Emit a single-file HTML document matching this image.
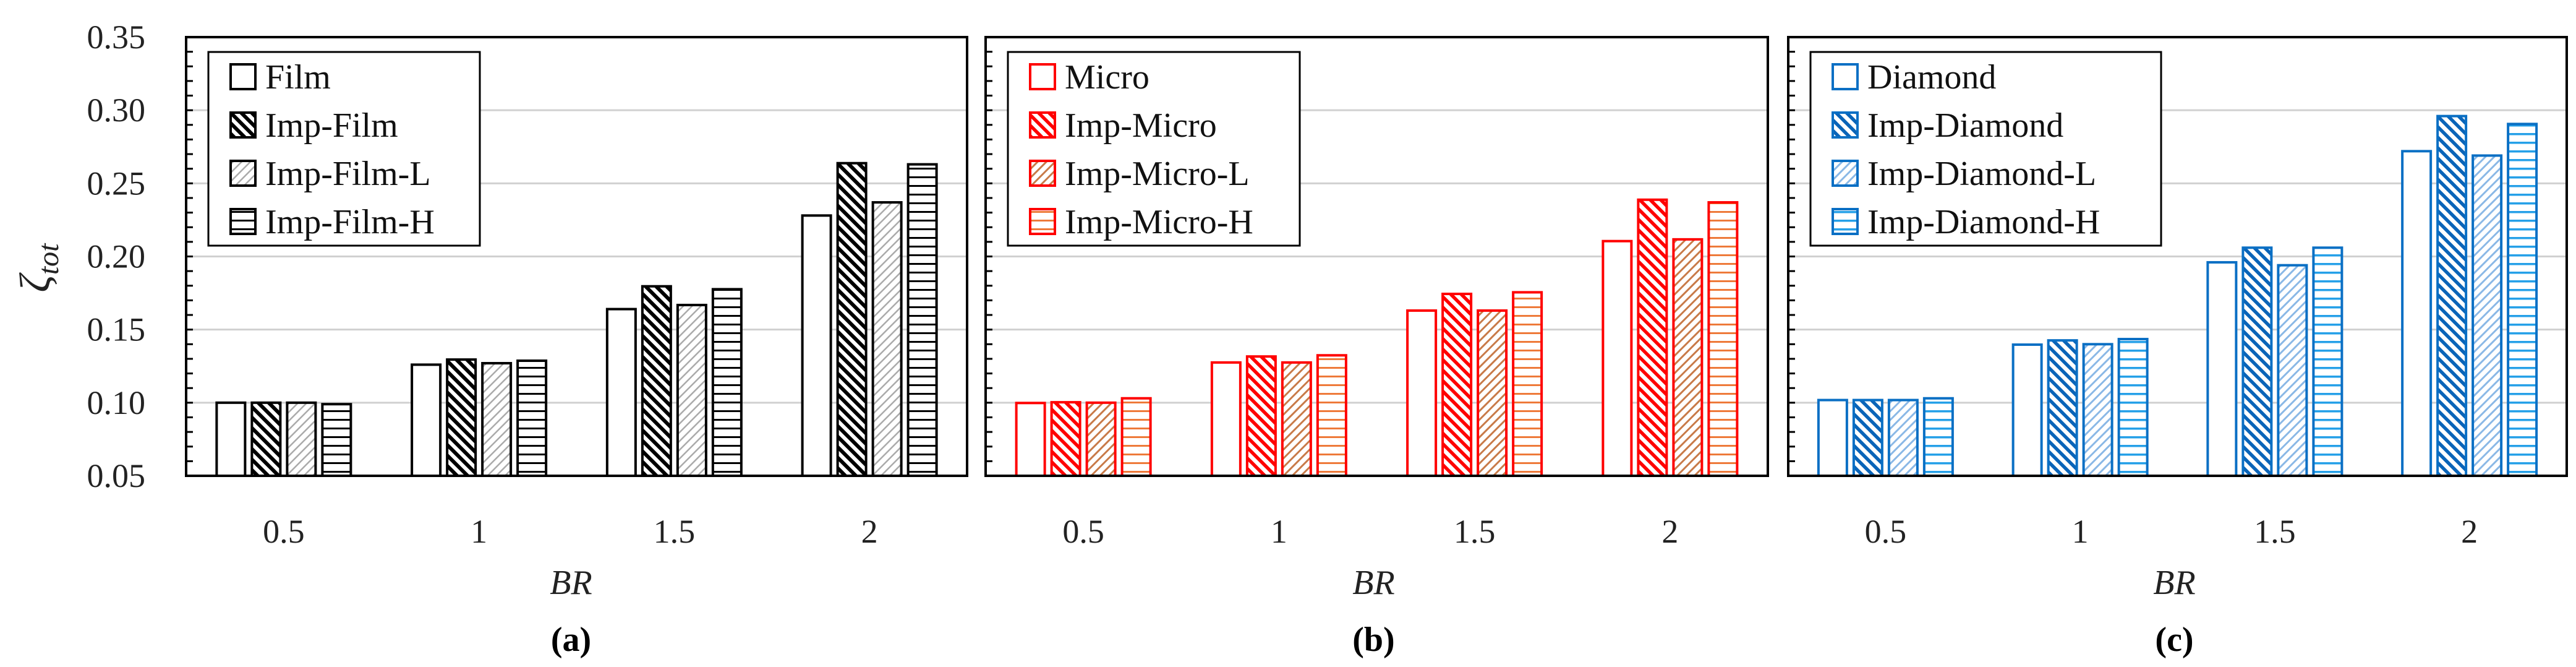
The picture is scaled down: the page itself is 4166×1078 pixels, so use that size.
<!DOCTYPE html>
<html><head><meta charset="utf-8"><style>
html,body{margin:0;padding:0;background:#fff;}
svg{display:block;}
text{font-family:"Liberation Serif",serif;}
</style></head><body>
<svg id="fig" width="4166" height="1078" viewBox="0 0 4166 1078" xmlns="http://www.w3.org/2000/svg">
<defs>
<pattern id="pd-k" patternUnits="userSpaceOnUse" width="12" height="12" patternTransform="rotate(-45)"><rect width="12" height="12" fill="#fff"/><rect width="6" height="12" fill="#000"/></pattern>
<pattern id="pl-k" patternUnits="userSpaceOnUse" width="10" height="10" patternTransform="rotate(45)"><rect width="10" height="10" fill="#fff"/><rect width="2.5" height="10" fill="#aaa"/></pattern>
<pattern id="ph-k" patternUnits="userSpaceOnUse" width="14" height="14"><rect width="14" height="14" fill="#fff"/><rect y="5" width="14" height="3" fill="#000"/></pattern>
<pattern id="pd-r" patternUnits="userSpaceOnUse" width="12" height="12" patternTransform="rotate(-45)"><rect width="12" height="12" fill="#fff"/><rect width="5.5" height="12" fill="#ff0000"/></pattern>
<pattern id="pl-r" patternUnits="userSpaceOnUse" width="10" height="10" patternTransform="rotate(45)"><rect width="10" height="10" fill="#fff"/><rect width="3" height="10" fill="#c87a48"/></pattern>
<pattern id="ph-r" patternUnits="userSpaceOnUse" width="14" height="14"><rect width="14" height="14" fill="#fff"/><rect y="5" width="14" height="3" fill="#ee7a3a"/></pattern>
<pattern id="pd-b" patternUnits="userSpaceOnUse" width="12" height="12" patternTransform="rotate(-45)"><rect width="12" height="12" fill="#fff"/><rect width="5.5" height="12" fill="#0a64b8"/></pattern>
<pattern id="pl-b" patternUnits="userSpaceOnUse" width="10" height="10" patternTransform="rotate(45)"><rect width="10" height="10" fill="#fff"/><rect width="3" height="10" fill="#8ab8e6"/></pattern>
<pattern id="ph-b" patternUnits="userSpaceOnUse" width="14" height="14"><rect width="14" height="14" fill="#fff"/><rect y="5" width="14" height="3.5" fill="#25a0e8"/></pattern>
</defs>
</svg>
<script>
const categories = ["0.5","1","1.5","2"];
const yTicks = [0.05,0.10,0.15,0.20,0.25,0.30,0.35];
const yTickLabels = ["0.05","0.10","0.15","0.20","0.25","0.30","0.35"];
const filmNames = ["Film","Imp-Film","Imp-Film-L","Imp-Film-H"];
const microNames = ["Micro","Imp-Micro","Imp-Micro-L","Imp-Micro-H"];
const diamondNames = ["Diamond","Imp-Diamond","Imp-Diamond-L","Imp-Diamond-H"];
const film = [0.100,0.126,0.164,0.228];
const impFilm = [0.100,0.1295,0.1796,0.2638];
const impFilmL = [0.100,0.127,0.1668,0.237];
const impFilmH = [0.099,0.1287,0.1776,0.263];
const micro = [0.0998,0.1275,0.163,0.2105];
const impMicro = [0.1003,0.1316,0.1744,0.2388];
const impMicroL = [0.100,0.1275,0.163,0.2117];
const impMicroH = [0.103,0.1324,0.1755,0.237];
const diamond = [0.1018,0.1397,0.196,0.272];
const impDiamond = [0.1018,0.1426,0.206,0.296];
const impDiamondL = [0.1018,0.140,0.194,0.269];
const impDiamondH = [0.103,0.1435,0.206,0.2906];

const NS="http://www.w3.org/2000/svg";
const svg=document.getElementById('fig');
function mk(tag,attrs,parent){const e=document.createElementNS(NS,tag);for(const k in attrs)e.setAttribute(k,attrs[k]);(parent||svg).appendChild(e);return e;}
const TOP=60, BOT=769, YMIN=0.05, YMAX=0.35;
function yScale(v){return BOT-(v-YMIN)/(YMAX-YMIN)*(BOT-TOP);}

const panels=[
 {L:301,R:1564,key:'k',stroke:'#000',names:filmNames,series:[film,impFilm,impFilmL,impFilmH],label:'(a)',id:'a',legW:439},
 {L:1594,R:2859,key:'r',stroke:'#ff0000',names:microNames,series:[micro,impMicro,impMicroL,impMicroH],label:'(b)',id:'b',legW:472},
 {L:2892,R:4151,key:'b',stroke:'#0a6fc4',names:diamondNames,series:[diamond,impDiamond,impDiamondL,impDiamondH],label:'(c)',id:'c',legW:567}
];
const fills=k=>['#fff','url(#pd-'+k+')','url(#pl-'+k+')','url(#ph-'+k+')'];

panels.forEach((p,pi)=>{
  const g=mk('g',{});
  
  
  const W=p.R-p.L;
  yTicks.forEach((t,i)=>{
    if(i===0||i===yTicks.length-1) return;
    const l=mk('line',{x1:p.L,x2:p.R,y1:yScale(t),y2:yScale(t),stroke:'#d0d0d0','stroke-width':3},g);
    
    
  });
  for(let v=YMIN; v<=YMAX+1e-9; v+=0.01){
    const l=mk('line',{x1:p.L,x2:p.L+11,y1:yScale(v),y2:yScale(v),stroke:'#000','stroke-width':3},g);
    
    
  }
  const step=W/categories.length, bw=46, bstep=57;
  categories.forEach((c,ci)=>{
    const cx=p.L+step*(ci+0.5);
    p.series.forEach((s,si)=>{
      const x=cx-2*bstep+ (bstep-bw)/2 + si*bstep;
      const y=yScale(s[ci]);
      const r=mk('rect',{x:x,y:y,width:bw,height:BOT-y,fill:fills(p.key)[si],stroke:p.stroke,'stroke-width':4},g);
      
      
    });
    const t=mk('text',{x:cx,y:877,'font-size':54,'text-anchor':'middle',fill:'#222'},g);
    t.textContent=c;
    
    
  });
  const fr=mk('rect',{x:p.L,y:TOP,width:W,height:BOT-TOP,fill:'none',stroke:'#000','stroke-width':4},g);
  
  
  const xt=mk('text',{x:p.L+W/2+ (pi===0?-9:-5),y:960,'font-size':56,'font-style':'italic','text-anchor':'middle',fill:'#222'},g);
  xt.textContent='BR';
  
  
  const pl=mk('text',{x:p.L+W/2+ (pi===0?-9:-5),y:1052,'font-size':56,'font-weight':'bold','text-anchor':'middle',fill:'#000'},g);
  pl.textContent=p.label;
  
  
  const lx=p.L+36, ly=84;
  const lg=mk('g',{},g);
  
  
  mk('rect',{x:lx,y:ly,width:p.legW,height:313,fill:'#fff',stroke:'#000','stroke-width':3},lg);
  p.names.forEach((n,si)=>{
    const cy=124+si*78;
    const sw=mk('rect',{x:lx+36,y:cy-20,width:40,height:40,fill:fills(p.key)[si],stroke:p.stroke,'stroke-width':4},lg);
    
    
    const t=mk('text',{x:lx+92,y:cy+19,'font-size':56,fill:'#111'},lg);
    t.textContent=n;
    
    
  });
});
yTicks.forEach((t,i)=>{
  const e=mk('text',{x:235,y:yScale(t)+18,'font-size':54,'text-anchor':'end',fill:'#222'});
  e.textContent=yTickLabels[i];
  
  
});
const yt=mk('text',{x:0,y:0,'font-size':70,'font-style':'italic',fill:'#222',transform:'translate(80,433) rotate(-90)','text-anchor':'middle'});


const z=mk('tspan',{},yt); z.textContent='ζ';
const sub=mk('tspan',{'font-size':48,dy:14},yt); sub.textContent='tot';
</script>
</body></html>
